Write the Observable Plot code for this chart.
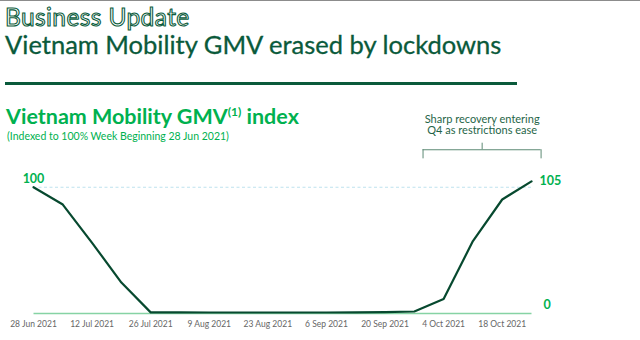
<!DOCTYPE html>
<html><head><meta charset="utf-8">
<script src="https://cdn.jsdelivr.net/npm/d3@7"></script>
<script src="https://cdn.jsdelivr.net/npm/@observablehq/plot@0.6"></script>
<style>
html,body{margin:0;padding:0;background:#fff;}
#page{position:relative;width:640px;height:340px;overflow:hidden;font-family:Lato,"Noto Sans",sans-serif;}
#topline{position:absolute;left:0;top:0;width:640px;height:1px;background:#8c8c8c;}
.t{position:absolute;white-space:nowrap;line-height:1;margin:0;}
#kicker{left:5px;top:5px;font-size:24.5px;color:#fff;-webkit-text-stroke:1.1px #0a5c3c;font-weight:400;letter-spacing:0.4px;}
#title{left:5px;top:32px;font-size:25.5px;color:#0a5a3b;font-weight:400;-webkit-text-stroke:0.3px #0a5a3b;}
#rule{position:absolute;left:5px;top:82px;width:512px;height:2.5px;background:#0a5a3b;}
#sub{left:6px;top:106px;font-size:21.5px;color:#00b14f;font-weight:700;}
#sub sup{font-size:12px;vertical-align:0;position:relative;top:-8px;font-weight:700;}
#note{left:7px;top:131px;font-size:10.5px;color:#00b14f;}
#chart{position:absolute;left:0;top:100px;}
</style></head>
<body>
<div id="page">
  <div id="topline"></div>
  <div class="t" id="kicker">Business Update</div>
  <div class="t" id="title">Vietnam Mobility GMV erased by lockdowns</div>
  <div id="rule"></div>
  <div id="chart"></div>
  <div class="t" id="sub">Vietnam Mobility GMV<sup>(1)</sup> index</div>
  <div class="t" id="note">(Indexed to 100% Week Beginning 28 Jun 2021)</div>
</div>
<script>
// Weekly series (week beginning)
const weeks = ["2021-06-28","2021-07-05","2021-07-12","2021-07-19","2021-07-26","2021-08-02","2021-08-09","2021-08-16","2021-08-23","2021-08-30","2021-09-06","2021-09-13","2021-09-20","2021-09-27","2021-10-04","2021-10-11","2021-10-18","2021-10-25"];
const gmvIndex = [100, 86.3, 56, 24.5, 0.9, 0.9, 0.8, 0.8, 0.8, 0.8, 0.8, 0.9, 1.1, 1.6, 11.4, 57.4, 90.3, 104.7];
const tickDates = ["2021-06-28","2021-07-12","2021-07-26","2021-08-09","2021-08-23","2021-09-06","2021-09-20","2021-10-04","2021-10-18"];
const tickLabels = ["28 Jun 2021","12 Jul 2021","26 Jul 2021","9 Aug 2021","23 Aug 2021","6 Sep 2021","20 Sep 2021","4 Oct 2021","18 Oct 2021"];
const startLabel = "100";
const endLabel = "105";
const zeroLabel = "0";
const annotationText = "Sharp recovery entering\nQ4 as restrictions ease";
const bracketDates = ["2021-09-29T02:00", "2021-10-13T05:00", "2021-10-27T07:00"]; // left, middle, right
const bracketLevels = {bar: 129.7, end: 122.5, top: 134.9};
const annotationLevel = 149.3;

const D = s => new Date(s + (s.length === 10 ? "T00:00:00Z" : ":00Z"));
const data = weeks.map((w, i) => ({date: D(w), value: gmvIndex[i]}));
const first = data[0], last = data[data.length - 1];
const ticks = tickDates.map(D);
const labelOf = new Map(ticks.map((t, i) => [+t, tickLabels[i]]));
const [bL, bM, bR] = bracketDates.map(D);

const darkLine = "#07492f";
const bright = "#00b14f";
const bracketColor = "#5d8a74";

const plot = Plot.plot({
  width: 640,
  height: 240,
  marginLeft: 33,
  marginRight: 109,
  marginTop: 11,
  marginBottom: 27,
  style: {fontFamily: "Lato, 'Noto Sans', sans-serif", background: "transparent", overflow: "visible"},
  x: {type: "utc", domain: [first.date, last.date]},
  y: {domain: [0, 160], axis: null},
  marks: [
    Plot.axisX(ticks, {tickSize: 0, tickPadding: 7, fontSize: 8.5, color: "#666", tickFormat: d => labelOf.get(+d), label: null}),
    Plot.ruleY([100], {x1: first.date, x2: last.date, stroke: "#bfe2ee", strokeWidth: 1.2, strokeDasharray: "3,2.5"}),
    Plot.ruleY([0], {x1: first.date, x2: last.date, dx: 0.5, stroke: "#86d3a4", strokeWidth: 1.5}),
    Plot.lineY(data, {x: "date", y: "value", stroke: darkLine, strokeWidth: 2.2, strokeLinejoin: "round"}),
    Plot.text([first], {x: "date", y: "value", text: () => startLabel, dy: -8, fill: bright, fontSize: 12.5, fontWeight: 700}),
    Plot.text([last], {x: "date", y: "value", text: () => endLabel, dx: 8, textAnchor: "start", fill: bright, fontSize: 12.5, fontWeight: 700}),
    Plot.text([last], {x: "date", y: () => 0, text: () => zeroLabel, dx: 12, dy: -9, textAnchor: "start", fill: bright, fontSize: 12.5, fontWeight: 700}),
    // bracket
    Plot.ruleY([bracketLevels.bar], {x1: bL, x2: bR, stroke: bracketColor, strokeWidth: 1}),
    Plot.ruleX([bL, bR], {y1: bracketLevels.end, y2: bracketLevels.bar, stroke: bracketColor, strokeWidth: 1}),
    Plot.ruleX([bM], {y1: bracketLevels.bar, y2: bracketLevels.top, stroke: bracketColor, strokeWidth: 1}),
    Plot.text([annotationText], {x: () => bM, y: () => annotationLevel, text: d => d, fill: "#1f6548", fontSize: 11, lineHeight: 1.05, textAnchor: "middle", lineAnchor: "middle"})
  ]
});
document.getElementById("chart").appendChild(plot);
</script>
</body></html>
